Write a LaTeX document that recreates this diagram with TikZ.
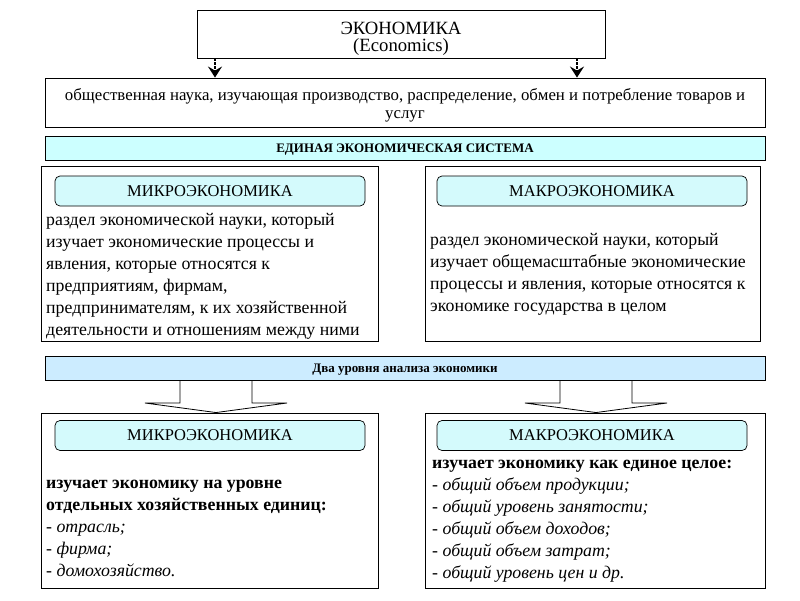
\documentclass[tikz,border=0pt]{standalone}
\usepackage{fontspec}
\setmainfont{Liberation Serif}
\usetikzlibrary{arrows.meta,calc}

\definecolor{barcyan}{RGB}{204,255,255}
\definecolor{barblue}{RGB}{204,236,255}
\definecolor{tabcyan}{RGB}{212,250,252}

\tikzset{
	frame/.style={draw, line width=0.9pt, fill=white, inner sep=0pt},
	bar/.style={draw, line width=0.9pt, inner sep=0pt, minimum width=720pt, minimum height=24pt,
		text height=9pt, text depth=0pt, font=\bfseries\fontsize{13}{14}\selectfont},
	tab/.style={draw, line width=0.7pt, rounded corners=5pt, fill=tabcyan, inner sep=0pt,
		minimum width=310pt, minimum height=30pt, font=\fontsize{16.5}{18}\selectfont},
	body/.style={anchor=north west, align=left, inner sep=0pt, font=\fontsize{17.8}{22}\selectfont},
	smallarr/.style={line width=2pt, dash pattern=on 2.5pt off 1.5pt,
		-{Stealth[length=11pt, width=14pt, inset=4pt]}},
	blockarr/.style={draw, line width=0.8pt, fill=white, line join=miter},
}

\begin{document}
\begin{tikzpicture}[x=1pt, y=-1pt]
	%%%%% START %%%%%
	\useasboundingbox[fill=white] (0,0) rectangle (800,600);
	
	\node[frame, minimum width=408pt, minimum height=48pt] (econ) at (401,34) {};
	\node[align=center, font=\fontsize{18.7}{17}\selectfont] (econtxt) at (401,38.5)
		{ЭКОНОМИКА\\(Economics)};
	\node[frame, minimum width=720pt, minimum height=49pt] (defn) at (405,102.5) {};
	\node[align=center, font=\fontsize{16.8}{18}\selectfont] (defntxt) at (405,105)
		{общественная наука, изучающая производство, распределение, обмен и потребление товаров и\\услуг};
	
	\coordinate (al) at (215,0);
	\coordinate (ar) at (577,0);
	\draw[smallarr] (al |- econ.south) -- (al |- defn.north);
	\draw[smallarr] (ar |- econ.south) -- (ar |- defn.north);
	
	\node[bar, fill=barcyan] (system) at (405,148) {ЕДИНАЯ ЭКОНОМИЧЕСКАЯ СИСТЕМА};
	
	% upper pair
	\node[frame, minimum width=337pt, minimum height=175pt] (micro1) at (209.5,253.5) {};
	\node[tab] (micro1tab) at (210,191) {МИКРОЭКОНОМИКА};
	\node[body] (micro1txt) at (46,213) {раздел экономической науки, который\\
		изучает экономические процессы и\\
		явления, которые относятся к\\
		предприятиям, фирмам,\\
		предпринимателям, к их хозяйственной\\
		деятельности и отношениям между ними};
	
	\node[frame, minimum width=335pt, minimum height=175pt] (macro1) at (592.5,253.5) {};
	\node[tab] (macro1tab) at (592,191) {МАКРОЭКОНОМИКА};
	\node[body] (macro1txt) at (430,233) {раздел экономической науки, который\\
		изучает общемасштабные экономические\\
		процессы и явления, которые относятся к\\
		экономике государства в целом};
	
	% two levels
	\coordinate (la) at (216,380);
	\coordinate (ra) at (596,380);
	\node[frame, minimum width=337pt, minimum height=175pt] (micro2) at (209.5,500.5) {};
	\node[frame, minimum width=340pt, minimum height=175pt] (macro2) at (595,500.5) {};
	\draw[blockarr] ($(la)+(-36,0)$) |- ($(la)+(-71,23)$) -- (la |- micro2.north)
		-- ($(la)+(71,23)$) -| ($(la)+(36,0)$);
	\draw[blockarr] ($(ra)+(-36,0)$) |- ($(ra)+(-71,23)$) -- (ra |- macro2.north)
		-- ($(ra)+(71,23)$) -| ($(ra)+(36,0)$);
	\node[bar, fill=barblue] (levels) at (405,368) {Два уровня анализа экономики};
	
	\node[tab] (micro2tab) at (210,435.5) {МИКРОЭКОНОМИКА};
	\node[body] (micro2txt) at (46,480) {\textbf{изучает экономику на уровне}\\
		\textbf{отдельных хозяйственных единиц:}\\
		- \textit{отрасль;}\\
		- \textit{фирма;}\\
		- \textit{домохозяйство.}};
	
	\node[tab] (macro2tab) at (592,435.5) {МАКРОЭКОНОМИКА};
	\node[body] (macro2txt) at (432,460) {\textbf{изучает экономику как единое целое:}\\
		- \textit{общий объем продукции;}\\
		- \textit{общий уровень занятости;}\\
		- \textit{общий объем доходов;}\\
		- \textit{общий объем затрат;}\\
		- \textit{общий уровень цен и др.}};
	%%%%% END %%%%%
\end{tikzpicture}
\end{document}
